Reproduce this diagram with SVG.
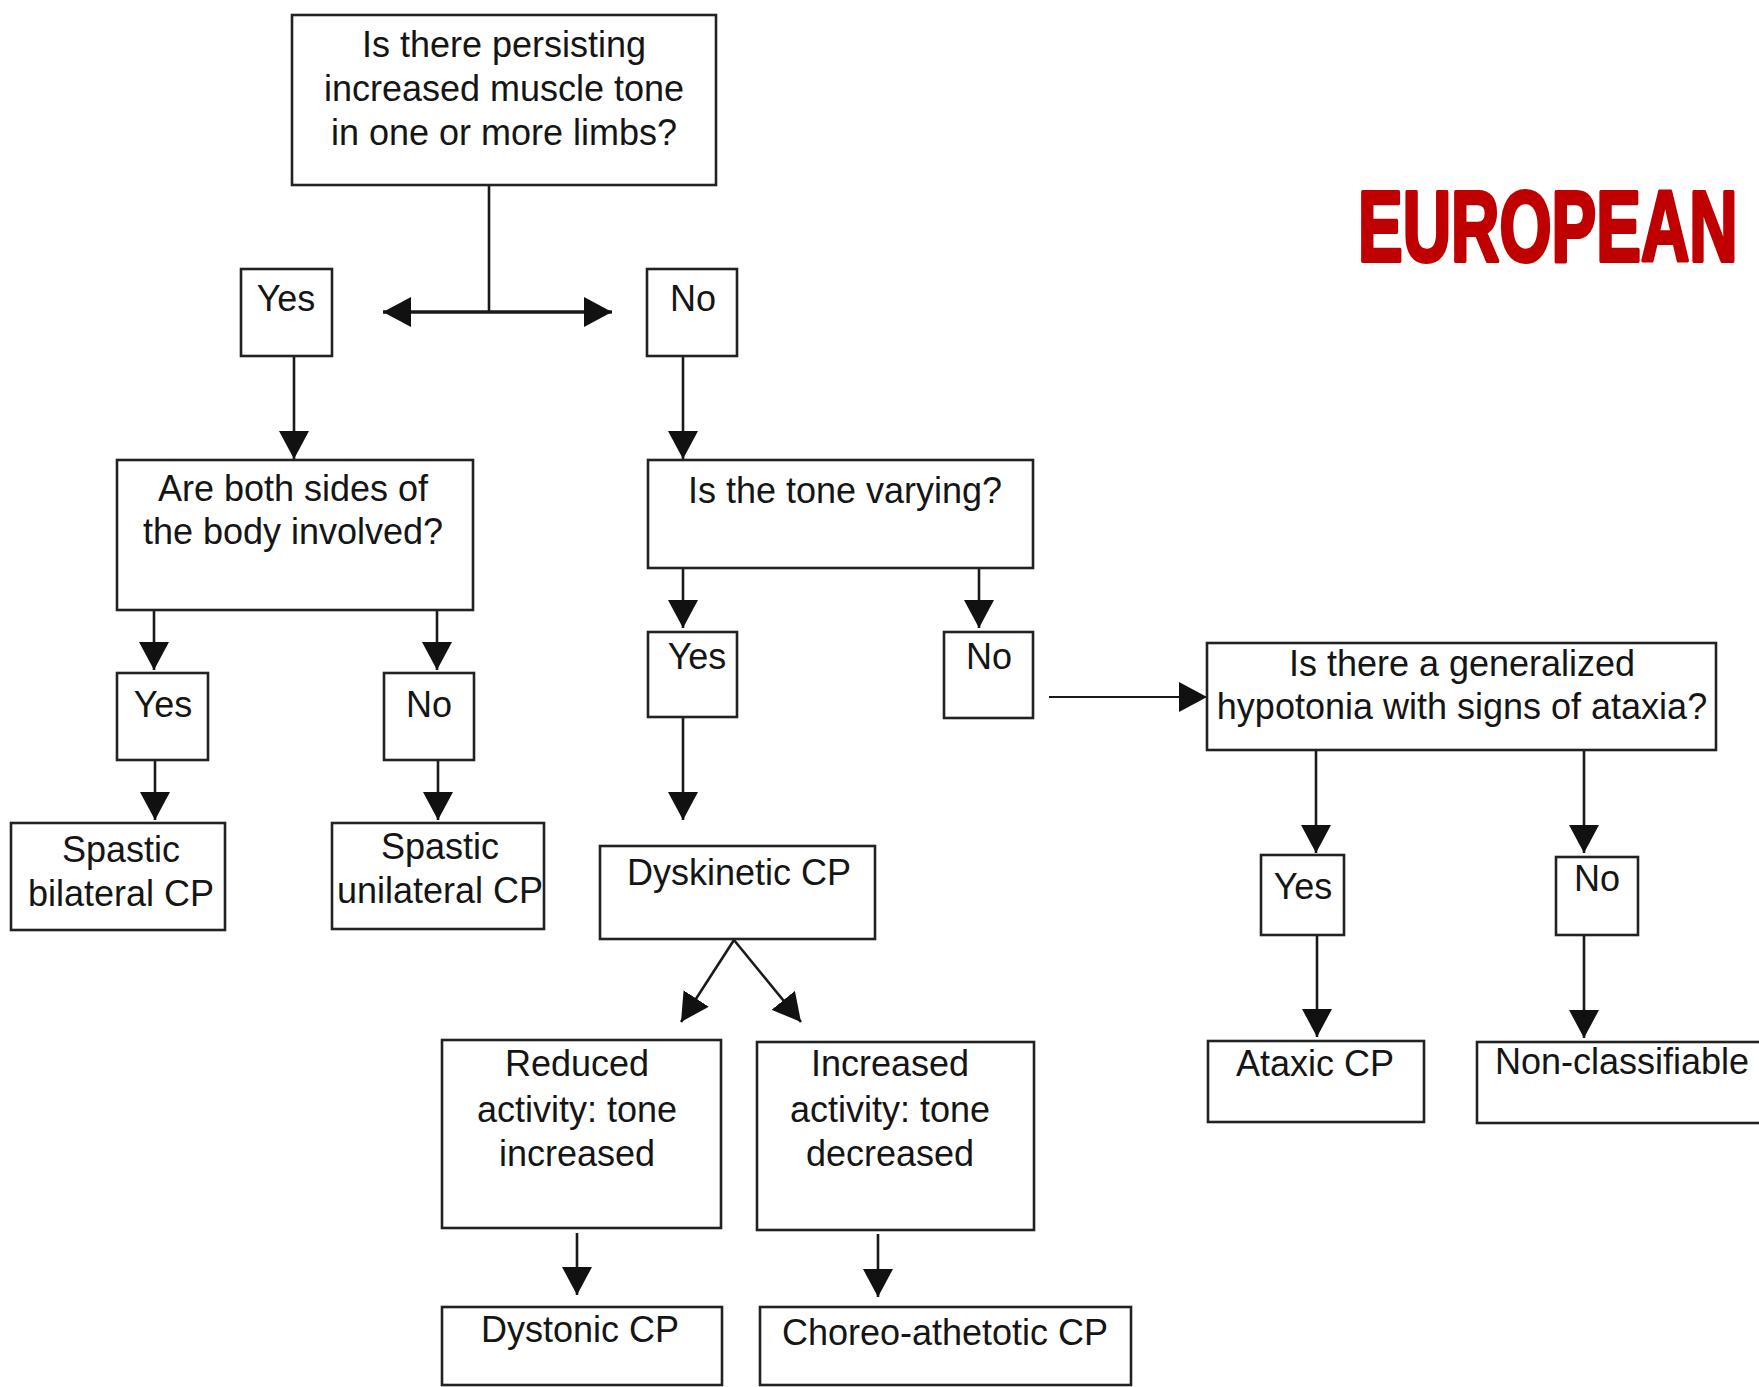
<svg xmlns="http://www.w3.org/2000/svg" width="1759" height="1387" viewBox="0 0 1759 1387">
  <style>
    .box { fill: #ffffff; stroke: #222222; stroke-width: 2.6; }
    .lbl { font-family: "Liberation Sans", Arial, sans-serif; font-size: 36px; fill: #151515; text-anchor: middle; }
    .conn { fill: none; stroke: #1a1a1a; stroke-width: 2.6; }
    .thick { stroke-width: 3.6; }
    .title { font-family: "Liberation Sans", Arial, sans-serif; font-weight: bold; font-size: 100px; fill: #C00000; stroke: #C00000; stroke-width: 4; stroke-linejoin: round; }
  </style>
  <defs>
    <marker id="head" viewBox="0 0 28 30" refX="28" refY="15" markerWidth="28" markerHeight="30" markerUnits="userSpaceOnUse" orient="auto-start-reverse">
      <path d="M0,0 L28,15 L0,30 Z" fill="#111111"/>
    </marker>
  </defs>
  <rect width="1759" height="1387" fill="#ffffff"/>

  <!-- condensed red heading -->
  <text class="title" x="0" y="0" transform="translate(1358,261) scale(0.67,1)">EUROPEAN</text>

  <g id="connectors">
    <line class="conn" x1="489" y1="185" x2="489" y2="312"/>
    <line class="conn thick" x1="383" y1="312" x2="612" y2="312" marker-start="url(#head)" marker-end="url(#head)"/>
    <line class="conn" x1="294" y1="356" x2="294" y2="459" marker-end="url(#head)"/>
    <line class="conn" x1="683" y1="356" x2="683" y2="459" marker-end="url(#head)"/>
    <line class="conn" x1="154" y1="610" x2="154" y2="670" marker-end="url(#head)"/>
    <line class="conn" x1="437" y1="610" x2="437" y2="670" marker-end="url(#head)"/>
    <line class="conn" x1="155" y1="760" x2="155" y2="820" marker-end="url(#head)"/>
    <line class="conn" x1="438" y1="760" x2="438" y2="820" marker-end="url(#head)"/>
    <line class="conn" x1="683" y1="568" x2="683" y2="628" marker-end="url(#head)"/>
    <line class="conn" x1="979" y1="568" x2="979" y2="628" marker-end="url(#head)"/>
    <line class="conn" x1="683" y1="717" x2="683" y2="820" marker-end="url(#head)"/>
    <line class="conn" x1="1049" y1="697" x2="1207" y2="697" style="stroke-width:2" marker-end="url(#head)"/>
    <line class="conn" x1="1316" y1="750" x2="1316" y2="853" marker-end="url(#head)"/>
    <line class="conn" x1="1584" y1="750" x2="1584" y2="853" marker-end="url(#head)"/>
    <line class="conn" x1="1317" y1="935" x2="1317" y2="1037" marker-end="url(#head)"/>
    <line class="conn" x1="1584" y1="935" x2="1584" y2="1038" marker-end="url(#head)"/>
    <line class="conn" x1="734" y1="940" x2="681" y2="1022" marker-end="url(#head)"/>
    <line class="conn" x1="734" y1="940" x2="801" y2="1022" marker-end="url(#head)"/>
    <line class="conn" x1="577" y1="1233" x2="577" y2="1295" marker-end="url(#head)"/>
    <line class="conn" x1="878" y1="1234" x2="878" y2="1297" marker-end="url(#head)"/>
  </g>

  <g id="q-tone">
    <rect class="box" x="292" y="15" width="424" height="170"/>
    <text class="lbl" x="504" y="57">Is there persisting</text>
    <text class="lbl" x="504" y="101">increased muscle tone</text>
    <text class="lbl" x="504" y="145">in one or more limbs?</text>
  </g>
  <g id="tone-yes">
    <rect class="box" x="241" y="269" width="91" height="87"/>
    <text class="lbl" x="286" y="311">Yes</text>
  </g>
  <g id="tone-no">
    <rect class="box" x="647" y="269" width="90" height="87"/>
    <text class="lbl" x="693" y="311">No</text>
  </g>

  <g id="q-sides">
    <rect class="box" x="117" y="460" width="356" height="150"/>
    <text class="lbl" x="293" y="501">Are both sides of</text>
    <text class="lbl" x="293" y="544">the body involved?</text>
  </g>
  <g id="sides-yes">
    <rect class="box" x="117" y="673" width="91" height="87"/>
    <text class="lbl" x="163" y="717">Yes</text>
  </g>
  <g id="sides-no">
    <rect class="box" x="384" y="673" width="90" height="87"/>
    <text class="lbl" x="429" y="717">No</text>
  </g>
  <g id="spastic-bilateral">
    <rect class="box" x="11" y="823" width="214" height="107"/>
    <text class="lbl" x="121" y="862">Spastic</text>
    <text class="lbl" x="121" y="906">bilateral CP</text>
  </g>
  <g id="spastic-unilateral">
    <rect class="box" x="332" y="823" width="212" height="106"/>
    <text class="lbl" x="440" y="859">Spastic</text>
    <text class="lbl" x="440" y="903">unilateral CP</text>
  </g>

  <g id="q-varying">
    <rect class="box" x="648" y="460" width="385" height="108"/>
    <text class="lbl" x="845" y="503">Is the tone varying?</text>
  </g>
  <g id="varying-yes">
    <rect class="box" x="648" y="632" width="89" height="85"/>
    <text class="lbl" x="697" y="669">Yes</text>
  </g>
  <g id="varying-no">
    <rect class="box" x="944" y="632" width="89" height="86"/>
    <text class="lbl" x="989" y="669">No</text>
  </g>
  <g id="dyskinetic">
    <rect class="box" x="600" y="846" width="275" height="93"/>
    <text class="lbl" x="739" y="885">Dyskinetic CP</text>
  </g>
  <g id="reduced">
    <rect class="box" x="442" y="1040" width="279" height="188"/>
    <text class="lbl" x="577" y="1076">Reduced</text>
    <text class="lbl" x="577" y="1122">activity: tone</text>
    <text class="lbl" x="577" y="1166">increased</text>
  </g>
  <g id="increased">
    <rect class="box" x="757" y="1042" width="277" height="188"/>
    <text class="lbl" x="890" y="1076">Increased</text>
    <text class="lbl" x="890" y="1122">activity: tone</text>
    <text class="lbl" x="890" y="1166">decreased</text>
  </g>
  <g id="dystonic">
    <rect class="box" x="442" y="1307" width="280" height="78"/>
    <text class="lbl" x="580" y="1342">Dystonic CP</text>
  </g>
  <g id="choreo">
    <rect class="box" x="760" y="1307" width="371" height="78"/>
    <text class="lbl" x="945" y="1345">Choreo-athetotic CP</text>
  </g>

  <g id="q-hypotonia">
    <rect class="box" x="1207" y="643" width="509" height="107"/>
    <text class="lbl" x="1462" y="676">Is there a generalized</text>
    <text class="lbl" x="1462" y="719">hypotonia with signs of ataxia?</text>
  </g>
  <g id="hypotonia-yes">
    <rect class="box" x="1261" y="855" width="83" height="80"/>
    <text class="lbl" x="1303" y="899">Yes</text>
  </g>
  <g id="hypotonia-no">
    <rect class="box" x="1556" y="857" width="82" height="78"/>
    <text class="lbl" x="1597" y="891">No</text>
  </g>
  <g id="ataxic">
    <rect class="box" x="1208" y="1041" width="216" height="81"/>
    <text class="lbl" x="1315" y="1076">Ataxic CP</text>
  </g>
  <g id="non-classifiable">
    <rect class="box" x="1477" y="1042" width="310" height="81"/>
    <text class="lbl" x="1622" y="1074">Non-classifiable</text>
  </g>
</svg>
